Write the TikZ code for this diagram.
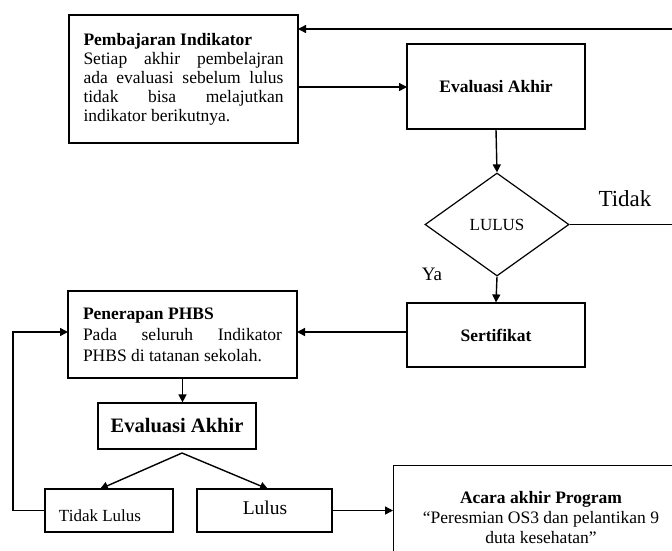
\documentclass[tikz,border=0pt]{standalone}
\usepackage{fontspec}
\setmainfont{Liberation Serif}
\usetikzlibrary{arrows.meta,shapes.geometric}
\begin{document}
\begin{tikzpicture}[x=1pt,y=-1pt,
  box/.style={draw,line width=1.2pt,inner sep=0pt},
  arr/.style={line width=1.4pt,-{Triangle[length=8pt,width=8pt]}},
  ln/.style={line width=1.4pt},
  txt/.style={font=\fontsize{17.5}{19}\selectfont}]
\useasboundingbox (0,0) rectangle (672,550);
\clip (0,0) rectangle (672,550);
% nodes
\node[box,txt,minimum width=229pt,minimum height=128pt] (b1) at (183.5,79)
 {\parbox{200pt}{\textbf{Pembajaran Indikator}\\ Setiap\hfill akhir\hfill pembelajran\\ ada\hfill evaluasi\hfill sebelum\hfill lulus\\ tidak\hfill bisa\hfill melajutkan\\ indikator berikutnya.}};
\node[box,txt,minimum width=178pt,minimum height=85pt] (ev1) at (496,86.5) {\textbf{Evaluasi Akhir}};
\node[draw,line width=1.2pt,shape=diamond,aspect=1.4,minimum width=144pt,minimum height=103pt,inner sep=0pt,font=\fontsize{17}{20}\selectfont] (dia) at (497,224.5) {LULUS};
\node[box,txt,minimum width=178pt,minimum height=64pt] (sert) at (496,335) {\textbf{Sertifikat}};
\node[box,font=\fontsize{17.5}{21}\selectfont,minimum width=229pt,minimum height=87pt] (pen) at (182.5,334.5)
 {\parbox{199pt}{\textbf{Penerapan PHBS}\\ Pada\hfill seluruh\hfill Indikator\\ PHBS di tatanan sekolah.}};
\node[box,font=\fontsize{20.5}{24}\selectfont,minimum width=158pt,minimum height=46pt] (ev2) at (177,426) {\textbf{Evaluasi Akhir}};
\node[box,minimum width=128pt,minimum height=43pt] (tl) at (109,510.5) {};
\node[font=\fontsize{17}{20}\selectfont] (tlt) at (100,516) {Tidak Lulus};
\node[box,minimum width=135pt,minimum height=43pt] (lu) at (264.5,510.5) {};
\node[font=\fontsize{19.5}{22}\selectfont] (lut) at (265,508) {Lulus};
\node[box,anchor=north west,minimum width=320pt,minimum height=120pt] (ac) at (393,465) {};
\node[font=\fontsize{17.5}{20}\selectfont,align=center] (act) at (541,518) {\textbf{Acara akhir Program}\\``Peresmian OS3 dan pelantikan 9\\duta kesehatan''};
\node[font=\fontsize{23}{26}\selectfont] (tidak) at (625,199) {Tidak};
\node[font=\fontsize{19}{22}\selectfont] (ya) at (432,274) {Ya};
% coordinates
\coordinate (tr) at (672,29);
\coordinate (b1r) at (298,29);
\coordinate (m1a) at (298,87);
\coordinate (m1b) at (407,87);
\coordinate (dr) at (672,224.5);
\coordinate (s1) at (407,332);
\coordinate (p1) at (297,332);
\coordinate (sp) at (182,453);
\coordinate (tln) at (100,489);
\coordinate (lun) at (268,489);
\coordinate (c1) at (13,510.5);
\coordinate (c2) at (13,332);
\coordinate (pl) at (68,332);
% connectors
\draw[arr] (tr) -- (b1r);
\draw[arr] (m1a) -- (m1b);
\draw[arr] (ev1.south) -- (dia.north);
\draw[ln] (dia.east) -- (dr);
\draw[arr] (dia.south) -- (sert.north);
\draw[arr] (s1) -- (p1);
\draw[arr] (pen.south) -- (pen.south |- ev2.north);
\draw[arr] (sp) -- (tln);
\draw[arr] (sp) -- (lun);
\draw[arr] (tl.west) -- (c1) -- (c2) -- (pl);
\draw[arr] (lu.east) -- (lu.east -| ac.west);
\end{tikzpicture}
\end{document}
